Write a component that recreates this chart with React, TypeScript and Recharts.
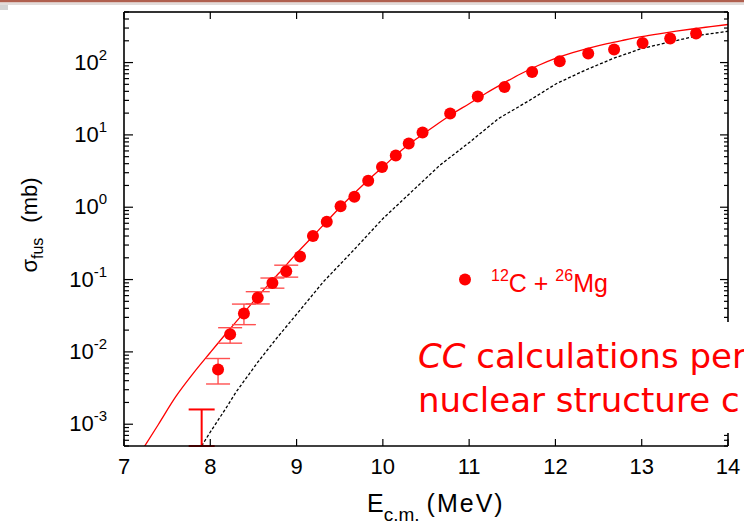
import React from "react";
import { ComposedChart, Line, Scatter, XAxis, YAxis, ErrorBar } from "recharts";

// Measured fusion cross sections, 12C + 26Mg
const energies = [8.09, 8.23, 8.39, 8.55, 8.72, 8.88, 9.04, 9.19, 9.35, 9.51, 9.67, 9.83, 9.99, 10.15, 10.3, 10.46, 10.78, 11.1, 11.41, 11.73, 12.05, 12.38, 12.68, 13.01, 13.33, 13.63];
const sigma = [0.0057, 0.0176, 0.034, 0.056, 0.0895, 0.13, 0.209, 0.4, 0.632, 1.03, 1.4, 2.33, 3.6, 5.2, 7.6, 10.8, 19.7, 34, 46, 74, 104, 133, 151, 187, 215, 252];
// lower / upper limits of the error bars for the low-energy points
const sigmaLow = [0.0036, 0.0132, 0.0238, 0.046, 0.076, 0.108];
const sigmaHigh = [0.0081, 0.0216, 0.0458, 0.068, 0.105, 0.158];

// upper limit at the lowest energy
const limitEnergy = [7.9];
const limitSigma = [0.0016];

// coupled-channels calculation
const ccEnergy = [7.2, 7.4, 7.6, 7.8, 8.0, 8.2, 8.4, 8.6, 8.8, 9.0, 9.2, 9.4, 9.6, 9.8, 10.0, 10.2, 10.4, 10.6, 10.8, 11.0, 11.2, 11.4, 11.6, 11.8, 12.0, 12.2, 12.4, 12.6, 12.8, 13.0, 13.2, 13.4, 13.6, 13.8, 14.0];
const ccSigma = [0.00042, 0.001, 0.0024, 0.005, 0.0098, 0.019, 0.036, 0.068, 0.124, 0.23, 0.41, 0.74, 1.3, 2.2, 3.6, 5.9, 9.0, 13.3, 19.3, 27, 38, 52, 70, 91, 114, 137, 160, 183, 205, 228, 250, 272, 293, 314, 336];

// no-coupling calculation
const ncEnergy = [7.9, 8.0, 8.2, 8.3, 8.55, 8.77, 8.96, 9.31, 9.66, 10.0, 10.35, 10.66, 11.01, 11.34, 11.7, 12.01, 12.34, 12.67, 12.99, 13.33, 13.67, 14.0];
const ncSigma = [0.0005, 0.00078, 0.0018, 0.0028, 0.0072, 0.0155, 0.029, 0.093, 0.254, 0.695, 1.71, 3.8, 8.0, 16.8, 30, 51, 78, 114, 155, 193, 238, 271];

const energyTicks = [7, 8, 9, 10, 11, 12, 13, 14];
const decades = [-4, -3, -2, -1, 0, 1, 2];
const mantissas = [1, 2, 3, 4, 5, 6, 7, 8, 9];
const Y_MIN = 5e-4;
const Y_MAX = 500;

const sigmaTicks: number[] = [];
decades.forEach((d) =>
  mantissas.forEach((m) => {
    const v = Number((m * Math.pow(10, d)).toPrecision(6));
    if (v >= Y_MIN * 0.999 && v <= Y_MAX * 1.001) sigmaTicks.push(v);
  })
);

const points = energies.map((x, i) => ({
  x,
  y: sigma[i],
  err: i < sigmaLow.length ? [sigma[i] - sigmaLow[i], sigmaHigh[i] - sigma[i]] : [0, 0],
}));
const pointsWithErr = points.slice(0, sigmaLow.length);
const pointsNoErr = points.slice(sigmaLow.length);
const limitPoints = limitEnergy.map((x, i) => ({ x, y: limitSigma[i], err: [limitSigma[i] - Y_MIN, 0] }));
const ccData = ccEnergy.map((x, i) => ({ x, y: ccSigma[i] }));
const ncData = ncEnergy.map((x, i) => ({ x, y: ncSigma[i] }));

const FONT = "'Liberation Sans', Arial, Helvetica, sans-serif";
const RED = "#ff0000";

const isMajor = (v: number) => {
  const e = Math.log10(v);
  return Math.abs(e - Math.round(e)) < 1e-6;
};

const LeftTick = (props: any) => {
  const { x, y, payload } = props;
  const v = payload.value;
  const major = isMajor(v);
  const e = Math.round(Math.log10(v));
  return (
    <g>
      <line x1={x} x2={x + (major ? 9 : 5)} y1={y} y2={y} stroke="#000" strokeWidth={1.2} />
      {major && (
        <text x={x - 17} y={y + 7} textAnchor="end" fontSize={22} fill="#000" fontFamily={FONT}>
          <tspan>10</tspan>
          <tspan dy={-10} fontSize={15}>{e}</tspan>
        </text>
      )}
    </g>
  );
};

const RightTick = (props: any) => {
  const { x, y, payload } = props;
  const major = isMajor(payload.value);
  return <line x1={x - (major ? 8 : 4)} x2={x} y1={y} y2={y} stroke="#000" strokeWidth={1.2} />;
};

const TopTick = (props: any) => {
  const { x, y } = props;
  return <line x1={x} x2={x} y1={y} y2={y + 7} stroke="#000" strokeWidth={1.2} />;
};

const BottomTick = (props: any) => {
  const { x, y, payload } = props;
  return (
    <g>
      <line x1={x} x2={x} y1={y - 7} y2={y} stroke="#000" strokeWidth={1.2} />
      <text x={x} y={y + 28} textAnchor="middle" fontSize={22} fill="#000" fontFamily={FONT}>
        {payload.value}
      </text>
    </g>
  );
};

const XTitle = (props: any) => {
  const vb = props.viewBox || {};
  const cx = vb.x + vb.width / 2;
  return (
    <text x={cx - 59} y={vb.y + 66} fontSize={25} fill="#000" fontFamily={FONT}>
      <tspan>E</tspan>
      <tspan dy={9} fontSize={19}>c.m.</tspan>
      <tspan dy={-9} dx={7} letterSpacing={2}>(MeV)</tspan>
    </text>
  );
};

const YTitle = (props: any) => {
  const vb = props.viewBox || {};
  const tx = vb.x + 37;
  const ty = vb.y + vb.height / 2 - 4;
  return (
    <text
      x={tx}
      y={ty}
      textAnchor="middle"
      fontSize={22}
      fill="#000"
      fontFamily={FONT}
      transform={`rotate(-90, ${tx}, ${ty})`}
    >
      <tspan>σ</tspan>
      <tspan dy={6} fontSize={16}>fus</tspan>
      <tspan dy={-6} dx={15}>(mb)</tspan>
    </text>
  );
};

const Dot = (props: any) => <circle cx={props.cx} cy={props.cy} r={6} fill={RED} />;
const NoShape = () => <g />;

export default function App() {
  return (
    <div style={{ position: "absolute", left: 0, top: 0, width: 744, height: 526, overflow: "hidden", background: "#fff" }}>
      <ComposedChart width={744} height={526} margin={{ top: 0, right: 0, bottom: 0, left: 0 }}>
        <XAxis
          xAxisId="bottom"
          dataKey="x"
          type="number"
          domain={[7, 14]}
          allowDataOverflow
          ticks={energyTicks}
          interval={0}
          height={80}
          tickSize={0}
          tickMargin={0}
          tick={<BottomTick />}
          axisLine={{ stroke: "#000", strokeWidth: 1.6 }}
          label={(p: any) => <XTitle {...p} />}
        />
        <XAxis
          xAxisId="top"
          orientation="top"
          dataKey="x"
          type="number"
          domain={[7, 14]}
          allowDataOverflow
          ticks={energyTicks}
          interval={0}
          height={12}
          tickSize={0}
          tickMargin={0}
          tick={<TopTick />}
          axisLine={{ stroke: "#333", strokeWidth: 2 }}
        />
        <YAxis
          yAxisId="left"
          scale="log"
          type="number"
          domain={[Y_MIN, Y_MAX]}
          allowDataOverflow
          ticks={sigmaTicks}
          interval={0}
          width={124}
          tickSize={0}
          tickMargin={0}
          tick={<LeftTick />}
          axisLine={{ stroke: "#000", strokeWidth: 1.6 }}
          label={(p: any) => <YTitle {...p} />}
        />
        <YAxis
          yAxisId="right"
          orientation="right"
          scale="log"
          type="number"
          domain={[Y_MIN, Y_MAX]}
          allowDataOverflow
          ticks={sigmaTicks}
          interval={0}
          width={16}
          tickSize={0}
          tickMargin={0}
          tick={<RightTick />}
          axisLine={{ stroke: "#000", strokeWidth: 1.6 }}
        />

        <Line
          data={ncData}
          xAxisId="bottom"
          yAxisId="right"
          dataKey="y"
          type="linear"
          stroke="#000"
          strokeWidth={1.3}
          strokeDasharray="3 2"
          dot={false}
          isAnimationActive={false}
        />
        <Line
          data={ccData}
          xAxisId="top"
          yAxisId="left"
          dataKey="y"
          type="monotone"
          stroke={RED}
          strokeWidth={1.3}
          dot={false}
          isAnimationActive={false}
        />
        <Scatter data={limitPoints} xAxisId="bottom" yAxisId="left" dataKey="y" shape={<NoShape />} isAnimationActive={false}>
          <ErrorBar dataKey="err" direction="y" width={13} stroke={RED} strokeWidth={2} isAnimationActive={false} />
        </Scatter>
        <Scatter data={pointsWithErr} xAxisId="bottom" yAxisId="left" dataKey="y" shape={<Dot />} isAnimationActive={false}>
          <ErrorBar dataKey="err" direction="y" width={12} stroke="#ff5050" strokeWidth={1.4} isAnimationActive={false} />
        </Scatter>
        <Scatter data={pointsNoErr} xAxisId="bottom" yAxisId="left" dataKey="y" shape={<Dot />} isAnimationActive={false} />
      </ComposedChart>

      <svg width={744} height={526} style={{ position: "absolute", left: 0, top: 0, pointerEvents: "none" }}>
        {/* slide header band */}
        <rect x={0} y={0} width={744} height={2.5} fill="#b0604f" />
        <rect x={0} y={2.5} width={744} height={2.5} fill="#e2dcda" />
        <rect x={0} y={5} width={8} height={5} fill="#d4d4d4" />

        {/* legend */}
        <circle cx={465} cy={279.5} r={6} fill={RED} />
        <text x={491} y={292} fontSize={25} fill={RED} fontFamily={FONT}>
          <tspan dy={-11} fontSize={16}>12</tspan>
          <tspan dy={11}>C + </tspan>
          <tspan dy={-11} fontSize={16}>26</tspan>
          <tspan dy={11}>Mg</tspan>
        </text>

        {/* annotation box */}
        <rect x={405} y={322} width={339} height={111} fill="#fff" />
        <text x={418} y={368} fontSize={34} fill={RED} fontFamily="'Comic Sans MS', 'DejaVu Sans', sans-serif">
          <tspan fontStyle="italic">CC</tspan>
          <tspan> calculations per</tspan>
        </text>
        <text x={418} y={412} fontSize={34} fill={RED} fontFamily="'Comic Sans MS', 'DejaVu Sans', sans-serif">
          nuclear structure c
        </text>
      </svg>
    </div>
  );
}
